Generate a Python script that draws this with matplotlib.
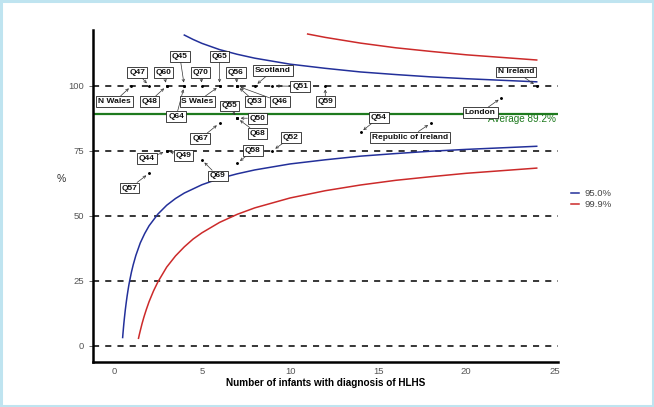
import matplotlib.pyplot as plt
from matplotlib.patches import Rectangle

plt.rcParams['font.family'] = ['Liberation Sans', 'DejaVu Sans']

# units: number of infants and % survival
units = ['N Wales', 'Q47', 'Q60', 'Q48', 'Q45', 'Q64', 'Q70', 'Q65', 'S Wales',
         'Q56', 'Q53', 'Q46', 'Scotland', 'Q51', 'Q59', 'N Ireland', 'London',
         'Republic of Ireland', 'Q54', 'Q55', 'Q50', 'Q68', 'Q67', 'Q52', 'Q44',
         'Q49', 'Q58', 'Q69', 'Q57']
n_inf = [1, 2, 3, 3, 4, 4, 5, 6, 6, 7, 7, 7, 8, 9, 12, 24, 22, 18, 14, 7, 7, 7,
         6, 9, 3, 3, 7, 5, 2]
pct = [100, 100, 100, 100, 100, 100, 100, 100, 100, 100, 100, 100, 100, 100, 100,
       100, 95.5, 85.7, 82.2, 87.6, 87.6, 87.6, 85.7, 75.1, 75, 75, 70.3, 71.5, 66.4]

average = 89.2

# control limits
n_lo95 = [0.5, 0.52, 0.55, 0.57, 0.6, 0.65, 0.7, 0.75, 0.8, 0.85, 0.9, 1, 1.1, 1.25,
          1.5, 1.75, 2, 2.5, 3, 3.5, 4, 5, 6, 7, 8, 10, 12, 14, 16, 18, 20, 22, 24]
lo95 = [3.2, 4.9, 7.2, 8.7, 10.7, 13.8, 16.5, 19.0, 21.2, 23.3, 25.1, 28.4, 31.2,
        34.8, 39.6, 43.2, 46.2, 50.7, 54.1, 56.7, 58.8, 62.0, 64.4, 66.2, 67.7, 70.0,
        71.6, 73.0, 74.0, 74.9, 75.6, 76.2, 76.8]
n_up95 = [4, 4.5, 5, 6, 7, 8, 10, 12, 14, 16, 18, 20, 22, 24]
up95 = [119.6, 117.9, 116.4, 114.0, 112.2, 110.7, 108.4, 106.8, 105.4, 104.4, 103.5,
        102.8, 102.2, 101.6]
n_lo999 = [1.4, 1.45, 1.5, 1.6, 1.7, 1.75, 1.85, 2, 2.25, 2.5, 3, 3.5, 4, 4.5, 5, 6,
           7, 8, 10, 12, 14, 16, 18, 20, 22, 24]
lo999 = [2.9, 4.4, 5.8, 8.5, 10.9, 12.0, 14.1, 17.0, 21.1, 24.6, 30.3, 34.6, 38.1,
         41.1, 43.5, 47.5, 50.6, 53.1, 56.9, 59.7, 61.9, 63.7, 65.1, 66.4, 67.4, 68.4]
n_up999 = [11, 12, 14, 16, 18, 20, 22, 24]
up999 = [120.0, 118.7, 116.5, 114.7, 113.3, 112.0, 111.0, 110.0]

# where each label box sits (data coords)
label_pos = [(0.04, 94.0), (1.32, 105.3), (2.81, 105.3), (2.03, 94.0), (3.75, 111.3),
             (3.54, 88.3), (4.93, 105.3), (6.0, 111.3), (4.75, 94.0), (6.93, 105.3),
             (8.0, 94.0), (9.42, 94.0), (9.02, 105.9), (10.58, 99.9), (12.0, 94.0),
             (22.85, 105.4), (20.8, 89.7), (16.8, 80.3), (15.05, 87.8), (6.55, 92.3),
             (8.15, 87.6), (8.15, 81.8), (4.9, 79.7), (10.04, 80.1), (1.88, 72.0),
             (3.95, 73.3), (7.89, 75.1), (5.9, 65.4), (0.9, 60.7)]

fig = plt.figure(figsize=(6.54, 4.07), dpi=100)
ax = fig.add_axes([0.142, 0.111, 0.711, 0.815])

for yv in [0, 25, 50, 75, 100]:
    ax.axhline(yv, color='black', lw=1.1, ls=(0, (4, 4)), zorder=1)
ax.axhline(average, color='#1e7a1e', lw=1.6, zorder=1)

blue = '#23309a'
red = '#cc2a2a'
ax.plot(n_lo95, lo95, color=blue, lw=1.1, label='95.0%')
ax.plot(n_up95, up95, color=blue, lw=1.1)
ax.plot(n_lo999, lo999, color=red, lw=1.1, label='99.9%')
ax.plot(n_up999, up999, color=red, lw=1.1)

ax.plot(n_inf, pct, 'k.', ms=2.2, zorder=3)

for name, xv, yv, (tx, ty) in zip(units, n_inf, pct, label_pos):
    ax.annotate(name, xy=(xv, yv), xytext=(tx, ty), ha='center', va='center',
                fontsize=6.0, fontweight='bold', color='#111111', zorder=4,
                bbox=dict(boxstyle='square,pad=0.22', fc='white', ec='#222222', lw=0.6),
                arrowprops=dict(arrowstyle='->,head_length=0.3,head_width=0.15',
                                color='#333333', lw=0.5, shrinkA=0, shrinkB=2.5))

ax.text(25.1, 87.3, 'Average 89.2%', color='#1e7a1e', fontsize=7.2,
        ha='right', va='center')

ax.set_xlim(-1.19, 25.2)
ax.set_ylim(-6.15, 121.5)
ax.set_xticks([0, 5, 10, 15, 20, 25])
ax.set_yticks([0, 25, 50, 75, 100])
ax.tick_params(axis='both', labelsize=6.8, colors='#555555', length=3, width=0.6)
ax.tick_params(axis='x', length=0, pad=4)
for s in ['top', 'right']:
    ax.spines[s].set_visible(False)
for s in ['left', 'bottom']:
    ax.spines[s].set_linewidth(1.8)
    ax.spines[s].set_color('black')

ax.set_xlabel('Number of infants with diagnosis of HLHS', fontsize=7.2,
              fontweight='bold', labelpad=1)
fig.text(0.094, 0.56, '%', fontsize=7.5, color='#333333', ha='center', va='center')

ax.legend(loc='center left', bbox_to_anchor=(1.01, 0.49), frameon=False,
          fontsize=6.8, handlelength=0.8, handletextpad=0.6, labelspacing=0.2,
          labelcolor='#444444')

fig.add_artist(Rectangle((0.002, 0.003), 0.996, 0.994, transform=fig.transFigure,
                         fill=False, ec='#bfe4f0', lw=2.2))

fig.savefig('out.png', dpi=100)
